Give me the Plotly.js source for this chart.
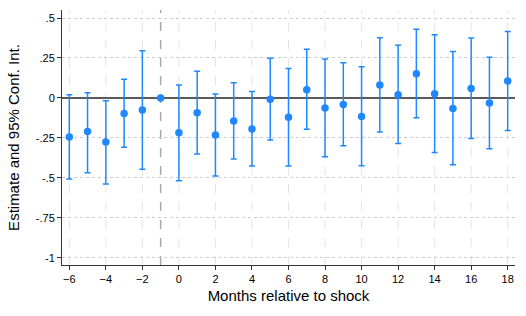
<!DOCTYPE html>
<html><head><meta charset="utf-8">
<script src="https://cdn.plot.ly/plotly-3.0.1.min.js"></script>
<style>html,body{margin:0;padding:0;background:#fff}</style>
</head><body>
<div id="chart" style="width:526px;height:316px"></div>
<script>
var months = [-6,-5,-4,-3,-2,-1,0,1,2,3,4,5,6,7,8,9,10,11,12,13,14,15,16,17,18];
var estimate = [-0.244,-0.21,-0.275,-0.097,-0.075,0,-0.217,-0.092,-0.231,-0.144,-0.194,-0.008,-0.121,0.052,-0.062,-0.04,-0.115,0.081,0.021,0.152,0.027,-0.065,0.06,-0.031,0.106];
var ciUpper = [0.02,0.033,-0.017,0.117,0.296,0,0.081,0.167,0.025,0.096,0.04,0.248,0.185,0.304,0.244,0.221,0.196,0.377,0.329,0.429,0.396,0.29,0.375,0.254,0.415];
var ciLower = [-0.506,-0.467,-0.537,-0.308,-0.446,0,-0.517,-0.35,-0.488,-0.381,-0.425,-0.262,-0.425,-0.196,-0.367,-0.298,-0.423,-0.212,-0.285,-0.123,-0.34,-0.417,-0.254,-0.317,-0.204];
var yTickVals = [0.5,0.25,0,-0.25,-0.5,-0.75,-1];
var yTickText = ['.5','.25','0','-.25','-.5','-.75','-1'];
var xTickVals = [-6,-4,-2,0,2,4,6,8,10,12,14,16,18];

var plus = ciUpper.map(function(u,i){return u-estimate[i];});
var minus = ciLower.map(function(l,i){return estimate[i]-l;});
var blue = '#1f88ff';

var shapes = xTickVals.map(function(v){
  return {type:'line',xref:'x',yref:'paper',x0:v,x1:v,y0:0,y1:1,layer:'below',
    line:{color:'#e3e3e3',width:1,dash:'dash'}};
});
shapes.push({type:'line',xref:'x',yref:'paper',x0:-1,x1:-1,y0:0,y1:1,layer:'below',
  line:{color:'#a8a8a8',width:1.5,dash:'dash'}});

var trace = {
  x: months, y: estimate, type:'scatter', mode:'markers',
  marker:{color:blue,size:7.5},
  error_y:{type:'data',symmetric:false,array:plus,arrayminus:minus,color:blue,thickness:1.5,width:3},
  hoverinfo:'none', showlegend:false
};

var layout = {
  width:526, height:316,
  margin:{l:62,r:11,t:10,b:51},
  paper_bgcolor:'#fff', plot_bgcolor:'#fff',
  font:{family:'Liberation Sans, Arial, sans-serif',color:'#000'},
  xaxis:{range:[-6.4,18.4],tickvals:xTickVals,ticks:'outside',ticklen:4,tickcolor:'#333',
    showgrid:false,zeroline:false,showline:true,linecolor:'#333',linewidth:1,
    tickfont:{size:11},
    title:{text:'Months relative to shock',font:{size:15},standoff:6}},
  yaxis:{range:[-1.044,0.55],tickvals:yTickVals,ticktext:yTickText,ticks:'outside',ticklen:4,tickcolor:'#333',
    showgrid:true,gridcolor:'#cccccc',griddash:'dot',gridwidth:1,
    zeroline:true,zerolinecolor:'#5a5a5a',zerolinewidth:2,
    showline:true,linecolor:'#333',linewidth:1,
    tickfont:{size:11},
    title:{text:'Estimate and 95% Conf. Int.',font:{size:15},standoff:12}},
  shapes:shapes
};
Plotly.newPlot('chart',[trace],layout,{staticPlot:true,displayModeBar:false});
</script>
</body></html>
